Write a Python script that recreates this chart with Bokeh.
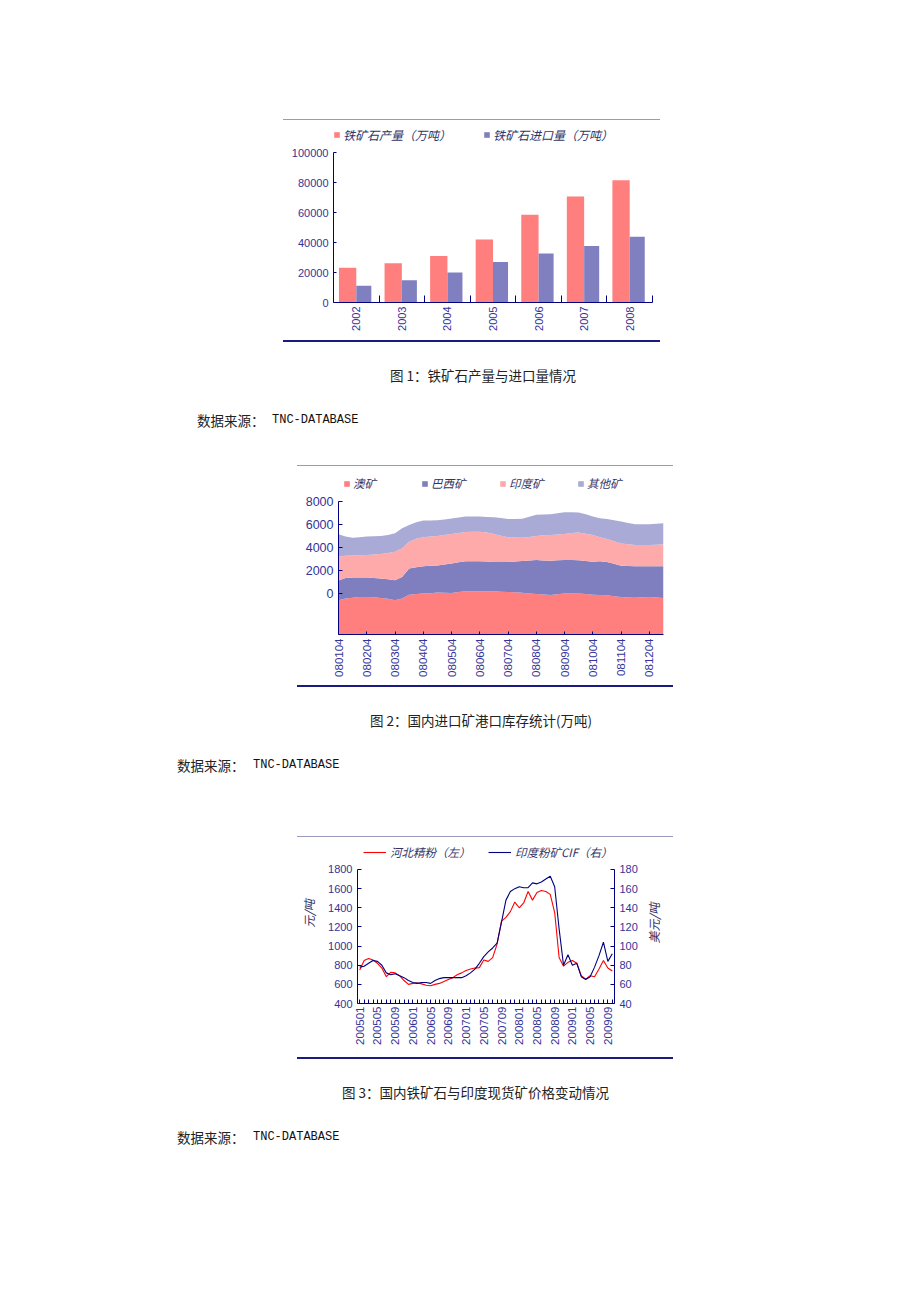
import numpy as np
from bokeh.plotting import figure
from bokeh.models import (Range1d, LinearAxis, FixedTicker, Legend, LegendItem,
                          Div, Spacer, ColumnDataSource, NumeralTickFormatter)
from bokeh.layouts import column, row
from bokeh.embed import file_html
from bokeh.resources import INLINE

# ---------------- data: chart 1 ----------------
YEARS = ["2002", "2003", "2004", "2005", "2006", "2007", "2008"]
ORE_OUTPUT = [23100, 26100, 31000, 42000, 58500, 70700, 81500]
ORE_IMPORT = [11100, 14800, 20000, 27000, 32600, 37700, 43800]
LEGEND1 = ["铁矿石产量（万吨）", "铁矿石进口量（万吨）"]
Y1_TICKS = [0, 20000, 40000, 60000, 80000, 100000]

# ---------------- data: chart 2 (weekly port stocks) ----------------
WEEK_LABELS = ["080104", "080204", "080304", "080404", "080504", "080604",
               "080704", "080804", "080904", "081004", "081104", "081204"]
AU = [2970, 3130, 3200, 3250, 3260, 3230, 3170, 3100, 2970, 3130,
      3460, 3520, 3550, 3590, 3640, 3620, 3610, 3680, 3750, 3760,
      3750, 3750, 3750, 3720, 3700, 3670, 3630, 3570, 3520, 3470,
      3430, 3490, 3550, 3560, 3550, 3510, 3460, 3440, 3400, 3330,
      3260, 3220, 3200, 3230, 3260, 3220, 3170]
BR = [1730, 1770, 1750, 1700, 1690, 1680, 1690, 1690, 1740, 1870,
      2270, 2330, 2380, 2380, 2350, 2450, 2560, 2590, 2620, 2610,
      2620, 2580, 2540, 2570, 2590, 2680, 2760, 2860, 2940, 2960,
      2980, 2950, 2910, 2900, 2900, 2880, 2850, 2930, 2900, 2820,
      2710, 2730, 2730, 2700, 2670, 2710, 2760]
IN = [2050, 1930, 1920, 1930, 1950, 2040, 2120, 2280, 2480, 2480,
      2330, 2460, 2510, 2530, 2560, 2580, 2560, 2550, 2530, 2560,
      2560, 2520, 2440, 2280, 2150, 2070, 2020, 2040, 2090, 2180,
      2240, 2250, 2270, 2350, 2400, 2360, 2330, 2080, 1990, 1950,
      1940, 1880, 1840, 1840, 1840, 1870, 1900]
OT = [1950, 1670, 1540, 1570, 1600, 1580, 1570, 1580, 1600, 1740,
      1450, 1440, 1450, 1410, 1370, 1340, 1340, 1330, 1340, 1310,
      1310, 1360, 1450, 1540, 1600, 1620, 1640, 1760, 1840, 1800,
      1790, 1840, 1890, 1810, 1740, 1700, 1600, 1650, 1750, 1830,
      1900, 1850, 1800, 1800, 1800, 1810, 1830]
ORIGINS = ["澳矿", "巴西矿", "印度矿", "其他矿"]
STOCK_AXIS_START = -3550
Y2_TICKS = [0, 2000, 4000, 6000, 8000]

# ---------------- data: chart 3 (monthly prices) ----------------
MONTHS = [f"{y}{m:02d}" for y in range(2005, 2010) for m in range(1, 13)][:58]
HEBEI = [750, 850, 870, 855, 820, 770, 680, 725, 720, 690,
         640, 600, 610, 615, 605, 590, 585, 600, 610, 630,
         650, 670, 700, 720, 745, 760, 770, 775, 855, 840,
         880, 1020, 1260, 1300, 1360, 1460, 1400, 1450, 1570, 1480,
         1560, 1580, 1570, 1540, 1350, 880, 790, 830, 850, 820,
         690, 655, 690, 680, 760, 850, 770, 740]
INDIA = [78, 79, 82, 85, 84, 80, 72, 70, 71, 69,
         67, 64, 62, 61, 62, 62, 61, 64, 66, 67,
         67, 67, 67, 67, 69, 72, 76, 82, 89, 94,
         98, 103, 125, 148, 157, 160, 162, 161, 161, 166,
         165, 167, 170, 173, 162, 118, 80, 91, 80, 82,
         68, 65, 68, 78, 90, 104, 84, 92]
LEGEND3 = ["河北精粉（左）", "印度粉矿CIF（右）"]
Y3L_TICKS = [400, 600, 800, 1000, 1200, 1400, 1600, 1800]
Y3R_TICKS = [40, 60, 80, 100, 120, 140, 160, 180]

# ---------------- styles ----------------
NAVY = "#000080"
TICK_TXT = "#333399"
LEG_TXT = "#333366"
RULE_TOP = "#9999BB"
RULE_BOT = "#1A1A80"
CJK = "Noto Sans CJK SC"
NUM = "Liberation Sans"


def base_fig(w, h, l, r, t, b, **kw):
    p = figure(width=w, height=h, output_backend="svg", toolbar_location=None,
               min_border_left=l, min_border_right=r, min_border_top=t,
               min_border_bottom=b, **kw)
    p.xgrid.visible = False
    p.ygrid.visible = False
    p.outline_line_color = None
    return p


def style_axis(ax, size, tick_in=4):
    ax.axis_line_color = NAVY
    ax.major_tick_line_color = NAVY
    ax.major_tick_in = tick_in
    ax.major_tick_out = 0
    ax.minor_tick_line_color = None
    ax.major_label_text_color = TICK_TXT
    ax.major_label_text_font = NUM
    ax.major_label_text_font_size = size
    ax.major_label_standoff = 5


def style_legend(leg, gw, gh, standoff, lw, spacing, size):
    leg.orientation = "horizontal"
    leg.padding = 0
    leg.margin = 0
    leg.border_line_color = None
    leg.background_fill_alpha = 0
    leg.glyph_width = gw
    leg.glyph_height = gh
    leg.label_standoff = standoff
    leg.label_width = lw
    leg.label_height = 12
    leg.spacing = spacing
    leg.label_text_font = CJK
    leg.label_text_font_size = size
    leg.label_text_font_style = "italic"
    leg.label_text_color = LEG_TXT


# ---------------- chart 1 ----------------
# frame extends above the value axis to hold the legend; the axis itself is bounded
idx = np.arange(len(YEARS))
p1 = base_fig(377, 220, 50, 8, 4, 38,
              x_range=Range1d(-0.5, len(YEARS) - 0.5), y_range=Range1d(0, 118667))
src1 = ColumnDataSource(dict(xo=idx - 0.19, xi=idx + 0.165, out=ORE_OUTPUT, imp=ORE_IMPORT))
r_out = p1.vbar(x="xo", top="out", width=0.38, source=src1, fill_color="#FF7F7F", line_color=None)
r_imp = p1.vbar(x="xi", top="imp", width=0.33, source=src1, fill_color="#8080C0", line_color=None)
ya1 = p1.yaxis[0]
style_axis(ya1, "11px", tick_in=3)
ya1.ticker = FixedTicker(ticks=Y1_TICKS)
ya1.formatter = NumeralTickFormatter(format="0")
ya1.bounds = (Y1_TICKS[0], Y1_TICKS[-1])
xa1 = p1.xaxis[0]
style_axis(xa1, "11px")
xa1.ticker = FixedTicker(ticks=[int(i) for i in idx], minor_ticks=[float(i) + 0.5 for i in idx])
xa1.major_label_overrides = {int(i): y for i, y in zip(idx, YEARS)}
xa1.major_tick_line_color = None
xa1.minor_tick_line_color = NAVY
xa1.minor_tick_in = 7
xa1.minor_tick_out = 0
xa1.major_label_orientation = np.pi / 2
xa1.major_label_standoff = 4
leg1 = Legend(items=[LegendItem(label=LEGEND1[0], renderers=[r_out]),
                     LegendItem(label=LEGEND1[1], renderers=[r_imp])],
              location=(0, 159))
style_legend(leg1, 7, 7, 3, 132, 8, "12px")
p1.add_layout(leg1)

# ---------------- chart 2 ----------------
N = len(AU)
weeks = np.arange(N)
p2 = base_fig(376, 219, 41, 10, 6, 51,
              x_range=Range1d(0, N - 1), y_range=Range1d(STOCK_AXIS_START, 10518))
COLORS2 = ["#FF7F7F", "#7F7FC0", "#FFAAAA", "#AAAAD6"]
base = np.full(N, float(STOCK_AXIS_START))
rs2 = []
for vals, col in zip([AU, BR, IN, OT], COLORS2):
    top = base + np.array(vals, dtype=float)
    rs2.append(p2.varea(x=weeks, y1=base, y2=top, fill_color=col))
    base = top
ya2 = p2.yaxis[0]
style_axis(ya2, "12.5px")
ya2.ticker = FixedTicker(ticks=Y2_TICKS)
ya2.bounds = (STOCK_AXIS_START, Y2_TICKS[-1])
xa2 = p2.xaxis[0]
style_axis(xa2, "11.5px", tick_in=3)
wk_ticks = [4 * k for k in range(len(WEEK_LABELS))]
xa2.ticker = FixedTicker(ticks=wk_ticks)
xa2.major_label_overrides = {t: lab for t, lab in zip(wk_ticks, WEEK_LABELS)}
xa2.major_label_orientation = np.pi / 2
xa2.major_label_standoff = 4
leg2 = Legend(items=[LegendItem(label=n, renderers=[r]) for n, r in zip(ORIGINS, rs2)],
              location=(5, 143))
style_legend(leg2, 7, 7, 3, 60, 8, "11.5px")
p2.add_layout(leg2)

# ---------------- chart 3 ----------------
M = len(MONTHS)
mi = np.arange(M)
p3 = base_fig(376, 220, 57, 50, 4, 54,
              x_range=Range1d(-0.5, M - 0.5), y_range=Range1d(400, 2092.5))
p3.extra_y_ranges = {"usd": Range1d(40, 209.25)}
r_hb = p3.line(mi, HEBEI, line_color="#FF0000", line_width=1.1)
r_in = p3.line(mi, INDIA, line_color="#000080", line_width=1.1, y_range_name="usd")
ya3 = p3.yaxis[0]
style_axis(ya3, "11px")
ya3.ticker = FixedTicker(ticks=Y3L_TICKS)
ya3.bounds = (Y3L_TICKS[0], Y3L_TICKS[-1])
ya3.axis_label = "\u3000\u2002元/吨"
ya3.axis_label_text_font = CJK
ya3.axis_label_text_font_size = "12px"
ya3.axis_label_text_font_style = "italic"
ya3.axis_label_text_color = LEG_TXT
ya3.axis_label_standoff = 8
ax_r = LinearAxis(y_range_name="usd")
style_axis(ax_r, "11px")
ax_r.ticker = FixedTicker(ticks=Y3R_TICKS)
ax_r.bounds = (Y3R_TICKS[0], Y3R_TICKS[-1])
ax_r.axis_label = "美元/吨"
ax_r.axis_label_text_font = CJK
ax_r.axis_label_text_font_size = "12px"
ax_r.axis_label_text_font_style = "italic"
ax_r.axis_label_text_color = LEG_TXT
ax_r.axis_label_standoff = 13
props_r = ax_r.properties()
if "axis_label_orientation" in props_r:
    ax_r.axis_label_orientation = np.pi / 2
    if "axis_label_align" in props_r:
        ax_r.axis_label_align = "start"
        ax_r.axis_label = "\u3000" * 5 + "美元/吨"
p3.add_layout(ax_r, "right")
xa3 = p3.xaxis[0]
style_axis(xa3, "11.5px")
xa3.ticker = FixedTicker(ticks=[int(i) for i in mi])
xa3.major_label_overrides = {int(i): (MONTHS[i] if i % 4 == 0 else "") for i in mi}
xa3.major_label_orientation = np.pi / 2
xa3.major_label_standoff = 3
leg3 = Legend(items=[LegendItem(label=LEGEND3[0], renderers=[r_hb]),
                     LegendItem(label=LEGEND3[1], renderers=[r_in])],
              location=(6, 143))
style_legend(leg3, 23, 10, 4, 90, 8, "11.5px")
p3.add_layout(leg3)


# ---------------- page layout ----------------
def rule(w, h, color):
    return Div(text="", width=w, height=h, margin=0, styles={"background-color": color})


def caption(h, title, title_left, src_left, tnc_left):
    span = "position:absolute;white-space:nowrap;line-height:16px;"
    html = (f'<div style="position:relative;width:904px;height:{h}px;color:#222;">'
            f'<span style="{span}left:{title_left}px;top:25px;font-family:\'{CJK}\';font-size:13.5px;">{title}</span>'
            f'<span style="{span}left:{src_left}px;top:70px;font-family:\'{CJK}\';font-size:13.5px;">数据来源：</span>'
            f'<span style="{span}left:{tnc_left}px;top:70px;font-family:\'Liberation Mono\';font-size:12px;color:#111;">TNC-DATABASE</span>'
            f'</div>')
    return Div(text=html, width=904, height=h, margin=0)


def shifted(obj, left, h):
    return row(Spacer(width=left, height=h, margin=0), obj, spacing=0)


page = column(
    Spacer(width=904, height=119, margin=0),
    shifted(rule(377, 1, RULE_TOP), 283, 1),
    shifted(p1, 283, 220),
    shifted(rule(377, 2, RULE_BOT), 283, 2),
    caption(123, "图 1：铁矿石产量与进口量情况", 390, 197, 272),
    shifted(rule(376, 1, RULE_TOP), 297, 1),
    shifted(p2, 297, 219),
    shifted(rule(376, 2, RULE_BOT), 297, 2),
    caption(149, "图 2：国内进口矿港口库存统计(万吨)", 370, 177, 253),
    shifted(rule(376, 1, RULE_TOP), 297, 1),
    shifted(p3, 297, 220),
    shifted(rule(376, 2, RULE_BOT), 297, 2),
    caption(110, "图 3：国内铁矿石与印度现货矿价格变动情况", 342, 177, 253),
    spacing=0,
)

open("out.html", "w").write(file_html(page, INLINE))
